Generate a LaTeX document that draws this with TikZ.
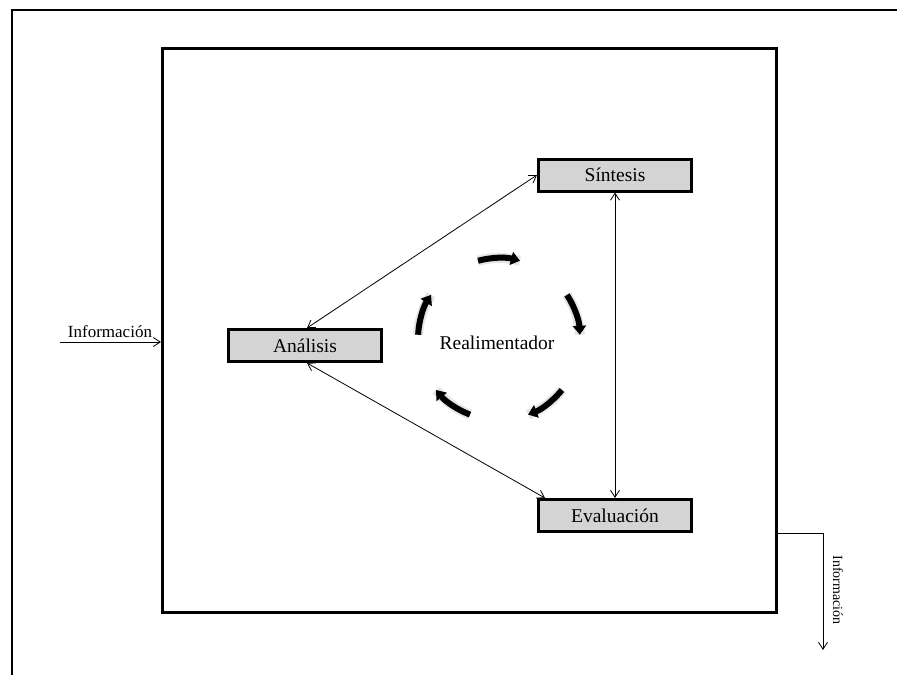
\documentclass[tikz,border=0pt]{standalone}
\usepackage{fontspec}
\setmainfont{Liberation Serif}
\usetikzlibrary{arrows.meta,calc}
\definecolor{boxgray}{RGB}{212,212,212}
\tikzset{
  stagebox/.style={draw=black, line width=3pt, fill=boxgray, minimum width=153pt, minimum height=32pt, inner sep=0pt, font=\fontsize{19.5}{22}\selectfont},
  link/.style={line width=0.8pt, {Straight Barb[length=7pt,width=9pt]}-{Straight Barb[length=7pt,width=9pt]}},
  flow/.style={line width=0.8pt, -{Straight Barb[length=7pt,width=9pt]}},
  cyc/.style={line width=6pt, -{Triangle[length=9pt,width=13pt]}},
  cycshadow/.style={line width=10pt, draw=black!10}
}
\begin{document}
\begin{tikzpicture}[x=1pt,y=-1pt]
\useasboundingbox (0,0) rectangle (897,675);
% outer frame
\draw[line width=2pt] (12,675) -- (12,10) -- (897,10);
% inner box
\draw[line width=3pt] (162,48) rectangle (776,612);
% stage nodes
\node[stagebox] (ana) at (305,345.5) {Análisis};
\node[stagebox] (sin) at (615,175) {Síntesis};
\node[stagebox] (eva) at (615,515.5) {Evaluación};
% links
\draw[link] ([xshift=2pt]ana.north) -- (sin.west);
\draw[link] ([xshift=2pt]ana.south) -- ([xshift=8pt]eva.north west);
\draw[link] (sin.south) -- (eva.north);
% input
\coordinate (inS) at (60,342);
\coordinate (inE) at (161,342);
\draw[flow] (inS) -- (inE);
\node[font=\fontsize{17}{19}\selectfont, anchor=south] (infoin) at (110,341) {Información};
% output
\coordinate (outS) at (777,533);
\coordinate (outC) at (823,533);
\coordinate (outE) at (823,650);
\draw[line width=0.8pt] (outS) -- (outC);
\draw[flow] (outC) -- (outE);
\node[font=\fontsize{14}{16}\selectfont, rotate=-90] (infoout) at (838,590) {Información};
% feedback cycle
\coordinate (c) at (499,339);
\foreach \a in {105,33,-39,-111,-183}{
  \draw[cycshadow] ($(c)+(\a:81pt)$) arc[start angle=\a, end angle=\a-30, radius=81pt];
  \draw[cyc] ($(c)+(\a:81pt)$) arc[start angle=\a, end angle=\a-30, radius=81pt];
}
\node[font=\fontsize{19.5}{22}\selectfont] (real) at (497,343) {Realimentador};
\end{tikzpicture}
\end{document}
